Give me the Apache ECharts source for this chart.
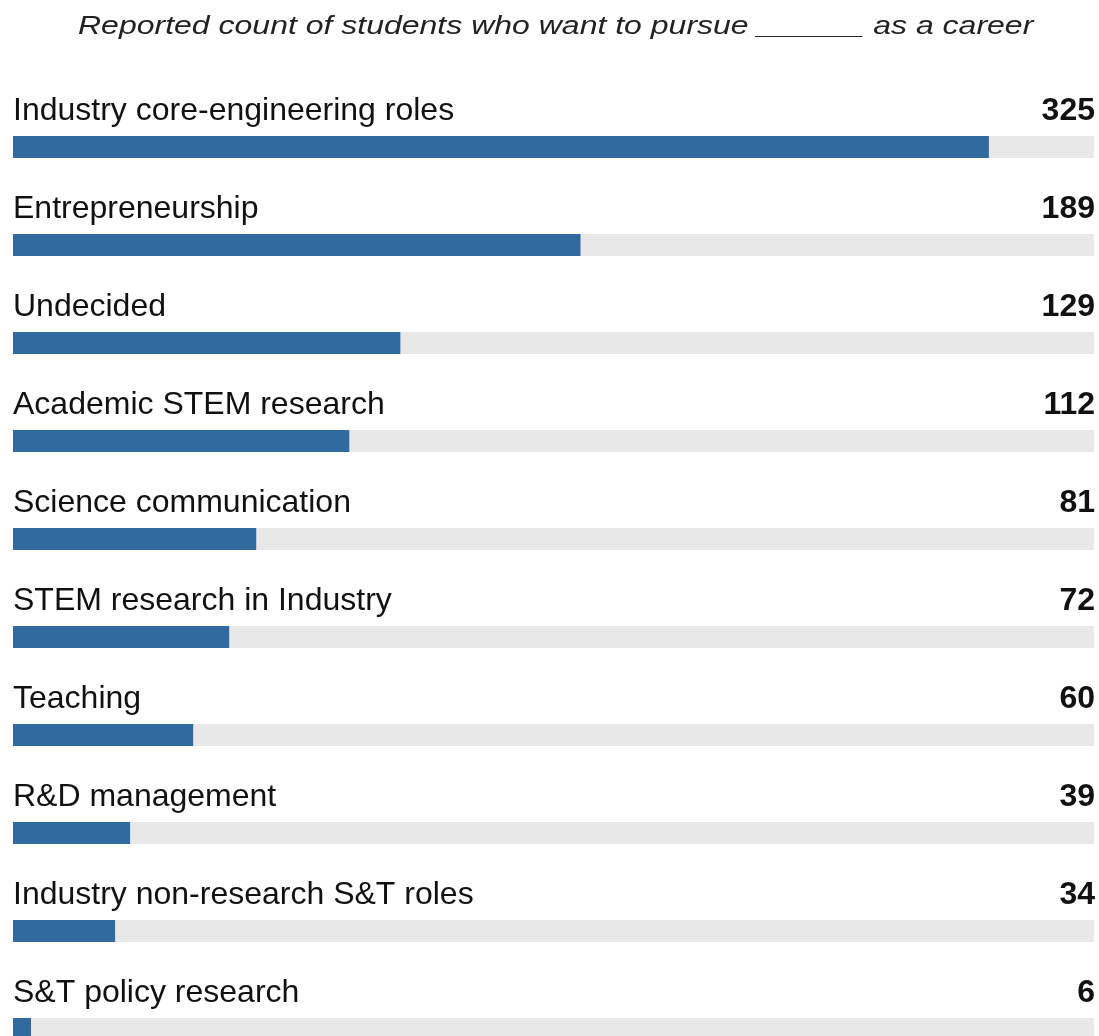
<!DOCTYPE html>
<html>
<head>
<meta charset="utf-8">
<title>Career choices</title>
<script src="https://cdn.jsdelivr.net/npm/echarts@6/dist/echarts.min.js"></script>
<style>
  html, body { margin: 0; padding: 0; background: #ffffff; }
  #chart { width: 1099px; height: 1036px; }
</style>
</head>
<body>
<div id="chart"></div>
<script>
// Career categories, top to bottom
const careers = [
  'Industry core-engineering roles',
  'Entrepreneurship',
  'Undecided',
  'Academic STEM research',
  'Science communication',
  'STEM research in Industry',
  'Teaching',
  'R&D management',
  'Industry non-research S&T roles',
  'S&T policy research'
];

// Number of students naming each career
const counts = [325, 189, 129, 112, 81, 72, 60, 39, 34, 6];

const titleText = 'Reported count of students who want to pursue ______ as a career';

const chart = echarts.init(document.getElementById('chart'), null, { renderer: 'canvas' });

const FONT = '"Liberation Sans", Arial, Helvetica, sans-serif';
const BLUE = '#316a9e';
const TRACK = '#e8e8e8';

chart.setOption({
  animation: false,
  backgroundColor: '#ffffff',
  graphic: [{
    type: 'text',
    x: 78,
    y: 27,
    scaleX: 1.28,
    style: {
      text: titleText,
      fill: '#222222',
      font: 'italic 25px ' + FONT,
      textAlign: 'left',
      textVerticalAlign: 'middle'
    }
  }],
  // rows sit on the category ticks, one every 98px
  grid: {
    left: 13,
    top: 147,
    width: 1081,
    height: 882,
    containLabel: false
  },
  xAxis: {
    type: 'value',
    min: 0,
    max: 360,
    show: false
  },
  yAxis: {
    type: 'category',
    data: careers,
    inverse: true,
    boundaryGap: false,
    show: false
  },
  series: [
    {
      name: 'students',
      type: 'bar',
      data: counts,
      barWidth: 22,
      barGap: '-100%',
      showBackground: true,
      backgroundStyle: { color: TRACK },
      itemStyle: { color: BLUE },
      label: {
        show: true,
        position: [0, -25],
        align: 'left',
        verticalAlign: 'middle',
        formatter: '{b}',
        color: '#111111',
        fontFamily: FONT,
        fontSize: 32
      },
      silent: true
    },
    {
      name: 'count labels',
      type: 'bar',
      data: counts,
      barWidth: 22,
      barGap: '-100%',
      itemStyle: { color: 'rgba(0,0,0,0)' },
      label: {
        show: true,
        formatter: '{c}',
        color: '#111111',
        fontFamily: FONT,
        fontWeight: 'bold',
        fontSize: 32
      },
      labelLayout: function (params) {
        return {
          x: 1095,
          y: params.rect.y - 25,
          align: 'right',
          verticalAlign: 'middle'
        };
      },
      silent: true
    }
  ]
});
</script>
</body>
</html>
